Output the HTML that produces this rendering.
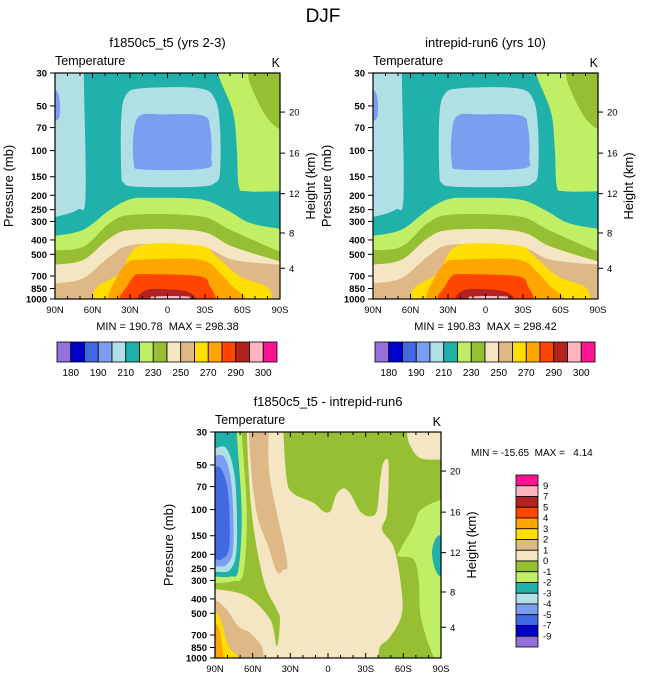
<!DOCTYPE html>
<html><head><meta charset="utf-8">
<style>
html,body{margin:0;padding:0;background:#fff;}
svg{display:block;font-family:"Liberation Sans",Arial,sans-serif;}
</style></head>
<body>
<svg id="fig" width="647" height="683" viewBox="0 0 647 683" xmlns="http://www.w3.org/2000/svg">
<text x="323" y="22" font-size="19" text-anchor="middle">DJF</text>
</svg>
<script>
// ---------- axis data ----------
const xTickLabels = ["90N","60N","30N","0","30S","60S","90S"];
const xTickLats = [-90,-60,-30,0,30,60,90];
const pTicks = [30,50,70,100,150,200,250,300,400,500,700,850,1000];
const hTickLabels = ["4","8","12","16","20"];
const hTickP = [621,359,195,104,55];

// ---------- top panel contour data (lat: -90=90N .. 90=90S, pressure mb) ----------
const topBackground = "#20b2aa";
const cPowderLeft = [[-100,20],[-67,20],[-67,30],[-65.6,203],[-72,250],[-90,280],[-100,285]];
const cBlueLeft = [[-100,38],[-90,39],[-86.8,43],[-86,52],[-88,62],[-100,63]];
const cPowderCenter = [[-37,60],[-33,42],[-20,38],[25,38],[38,45],[42,70],[42,140],[38,165],[25,175],[-25,175],[-35,165],[-37,140]];
const cBlueCenter = [[-27,75],[-22,58],[-5,57],[28,58],[34,70],[35,110],[30,132],[-20,134],[-27,120]];
const cGreenRight = [[40.4,20],[40.4,30],[52.4,55],[55.5,99],[57,173],[63,188],[90,188],[100,188],[100,20]];
const cOliveRight = [[64.3,20],[64.3,30],[68,39],[79,59],[90,72],[100,74],[100,20]];
const b230 = [[-100,375],[-90,375],[-67,340],[-46,250],[-30,213],[-14,208],[26,213],[47,250],[66,307],[90,336],[100,340],[100,1500],[-100,1500]];
const b240 = [[-100,470],[-90,470],[-67,443],[-46,307],[-27,270],[26,277],[50,341],[90,478],[100,480],[100,1500],[-100,1500]];
const b250 = [[-100,586],[-90,586],[-67,543],[-46,388],[-27,341],[26,349],[52,443],[90,557],[100,560],[100,1500],[-100,1500]];
const b260 = [[-100,785],[-90,785],[-67,722],[-46,516],[-27,431],[26,443],[52,543],[90,586],[100,590],[100,1500],[-100,1500]];
const b270 = [[-61,1300],[-60.3,1000],[-56,824],[-38,667],[-22,437],[26,437],[39,516],[58,704],[79,824],[84,1000],[85,1300]];
const b280 = [[-49,1300],[-48,1000],[-43,778],[-32.5,573],[-19,543],[26,543],[42,667],[52,824],[63,1000],[64,1300]];
const b290 = [[-40,1300],[-39,1000],[-32.5,824],[-27,704],[-19,680],[26,704],[34,824],[39,1000],[40,1300]];
const b295 = [[-25,1300],[-24.5,1000],[-16.6,868],[-0.7,860],[15,890],[23,1000],[24,1300]];
const b300 = [[-15,1300],[-14,1000],[-8.6,960],[15,960],[18,1000],[19,1300]];

// ---------- diff panel contour data ----------
const diffBackground = "#f5e6c3";
const dOliveLeft = [[-100,20],[-64.7,20],[-64.7,30],[-60.8,105],[-51.4,297],[-40.8,471],[-38.2,551],[-40.8,833],[-46,551],[-64.7,383],[-90,343],[-100,343]];
const dOliveRight = [[-35.5,20],[-35.5,30],[-32.8,63],[-27.5,78],[-11.6,90],[-3.6,103],[1.7,103],[4.4,90],[7,78],[12.4,72],[17.7,78],[25.7,103],[33.6,111],[39,101],[41.6,63],[44.3,48],[48.3,49],[47,105],[43,136],[52.2,178],[57.6,297],[58.9,500],[49.6,720],[41.6,833],[40.3,1000],[40.3,1400],[100,1400],[100,20]];
const dWheatTR = [[62.9,20],[62.9,30],[65.5,37],[73.5,45],[90,46],[100,46],[100,20]];
const dGreenRight = [[100,86],[90,86],[73.5,101],[68.2,129],[57.6,186],[56.2,206],[68.2,216],[72.2,297],[73.5,500],[78.8,753],[84.2,1000],[86,1400],[100,1400]];
const dTealRight = [[100,148],[90,148],[85.5,158],[82.8,196],[85.5,254],[90,283],[100,285]];
const dTanStrip = [[-62,20],[-47.5,20],[-47.5,30],[-46,63],[-32.8,216],[-35.5,254],[-40.8,262],[-47.5,178],[-56.8,105],[-62,43]];
const dGreenLeft = [[-100,20],[-68.7,20],[-68.7,30],[-64.7,105],[-67.4,268],[-75.4,304],[-90,313],[-100,313]];
const dTealLeft = [[-100,20],[-72.7,20],[-72.7,30],[-68.7,105],[-71.4,254],[-78,283],[-90,283],[-100,283]];
const dPowderLeft = [[-100,38],[-90,38.4],[-80.7,39],[-74,63],[-72.7,178],[-78,254],[-90,262],[-100,262]];
const dCornLeft = [[-100,43],[-90,43],[-82,45],[-76.7,70],[-75.4,178],[-80.7,235],[-90,241],[-100,241]];
const dRoyalLeft = [[-100,51],[-90,51],[-84.7,54],[-79.4,78],[-78.6,178],[-84.7,216],[-90,216],[-100,216]];
const dTanBL = [[-100,405],[-90,405],[-80.7,471],[-71.4,612],[-62,680],[-52.8,833],[-51.4,1000],[-51,1400],[-100,1400]];
const dGoldBL = [[-100,485],[-90,485],[-84.7,580],[-79.4,833],[-71.4,1000],[-71,1400],[-100,1400]];
const dOrangeBL = [[-100,580],[-90,580],[-86,680],[-83.4,975],[-83,1400],[-100,1400]];

// ---------- colour bars ----------
const tempColors = ["#9370db","#0000cd","#4169e1","#7b9ef0","#b0e0e6","#20b2aa","#c0ef65","#97bf33","#f5e6c3","#deb887","#ffdf00","#ffa500","#ff4500","#b22222","#ffb6c1","#ff1493"];
const tempLabels = ["180","190","210","230","250","270","290","300"];
const diffLabels = ["9","7","5","4","3","2","1","0","-1","-2","-3","-4","-5","-7","-9"];

const C = {blue:"#7b9ef0",powder:"#b0e0e6",teal:"#20b2aa",green:"#c0ef65",olive:"#97bf33",wheat:"#f5e6c3",tan:"#deb887",gold:"#ffdf00",orange:"#ffa500",ored:"#ff4500",brick:"#b22222",pink:"#ffb6c1",royal:"#4169e1"};

const NS="http://www.w3.org/2000/svg";
const svg=document.getElementById('fig');
function el(tag,attrs,parent){const e=document.createElementNS(NS,tag);for(const k in attrs)e.setAttribute(k,attrs[k]);(parent||svg).appendChild(e);return e;}
function txt(x,y,s,size,anchor,parent,extra){const t=el('text',Object.assign({x:x,y:y,'font-size':size,'text-anchor':anchor||'start'},extra||{}),parent);t.textContent=s;return t;}

function smoothPath(pts){
  const n=pts.length;let d='M'+pts[0][0].toFixed(1)+','+pts[0][1].toFixed(1);
  for(let i=0;i<n;i++){
    const p0=pts[(i-1+n)%n],p1=pts[i],p2=pts[(i+1)%n],p3=pts[(i+2)%n];
    const c1=[p1[0]+(p2[0]-p0[0])/6,p1[1]+(p2[1]-p0[1])/6];
    const c2=[p2[0]-(p3[0]-p1[0])/6,p2[1]-(p3[1]-p1[1])/6];
    d+='C'+c1[0].toFixed(1)+','+c1[1].toFixed(1)+' '+c2[0].toFixed(1)+','+c2[1].toFixed(1)+' '+p2[0].toFixed(1)+','+p2[1].toFixed(1);
  }
  return d+'Z';
}

let clipId=0;
function panel(o){
  const L=o.left,T=o.top,W=o.w,H=o.h;
  const xs=lat=>L+(lat+90)/180*W;
  const ys=p=>T+Math.log(p/30)/Math.log(1000/30)*H;
  const g=el('g',{});
  
  
  const cid='clip'+(clipId++);
  const cp=el('clipPath',{id:cid},g);el('rect',{x:L,y:T,width:W,height:H},cp);
  const pg=el('g',{'clip-path':'url(#'+cid+')'},g);
  const bg=el('rect',{x:L,y:T,width:W,height:H,fill:o.bg},pg);
  
  
  o.shapes.forEach(s=>{
    const pts=s[1].map(q=>[xs(q[0]),ys(q[1])]);
    const pa=el('path',{d:smoothPath(pts),fill:s[0]},pg);
    
    
  });
  el('rect',{x:L,y:T,width:W,height:H,fill:'none',stroke:'#000','stroke-width':1.2},g);
  for(let lat=-90;lat<=90;lat+=10){
    const x=xs(lat),major=xTickLats.indexOf(lat)>=0,len=major?5:3;
    el('line',{x1:x,y1:T+H,x2:x,y2:T+H-len,stroke:'#000','stroke-width':1},g);
    el('line',{x1:x,y1:T,x2:x,y2:T+len,stroke:'#000','stroke-width':1},g);
  }
  xTickLabels.forEach((s,i)=>{const t=txt(xs(xTickLats[i]),T+H+14,s,9.5,'middle',g);
    });
  pTicks.forEach(p=>{const y=ys(p);
    el('line',{x1:L-5,y1:y,x2:L,y2:y,stroke:'#000','stroke-width':1},g);
    const t=txt(L-8,y+3.5,String(p),9.5,'end',g,{'font-weight':'bold'});
    });
  hTickP.forEach((p,i)=>{const y=ys(p);
    el('line',{x1:L+W,y1:y,x2:L+W+5,y2:y,stroke:'#000','stroke-width':1},g);
    const t=txt(L+W+9,y+3.5,hTickLabels[i],9.5,'start',g);
    });
  const yt=txt(0,0,'Pressure (mb)',13,'middle',g,{transform:'translate('+(L-42)+','+(T+H/2)+') rotate(-90)'});
  
  const ht=txt(0,0,'Height (km)',13,'middle',g,{transform:'translate('+(L+W+35)+','+(T+H/2)+') rotate(-90)'});
  
  const tt=txt(L,T-8,'Temperature',12.5,'start',g);
  
  const kt=txt(L+W,T-6,'K',12.5,'end',g);
  
  const st=txt(L+W/2,T-26,o.title,13,'middle',g);
  
  if(o.minmax){const m=txt(L+W/2,T+H+31,o.minmax,11,'middle',g,{style:'white-space:pre'});
    }
}

const topShapes=[[C.powder,cPowderLeft],[C.blue,cBlueLeft],[C.powder,cPowderCenter],[C.blue,cBlueCenter],[C.green,cGreenRight],[C.olive,cOliveRight],
 [C.green,b230],[C.olive,b240],[C.wheat,b250],[C.tan,b260],[C.gold,b270],[C.orange,b280],[C.ored,b290],[C.brick,b295],[C.pink,b300]];
const diffShapes=[[C.olive,dOliveRight],[C.wheat,dWheatTR],[C.green,dGreenRight],[C.teal,dTealRight],[C.olive,dOliveLeft],[C.tan,dTanStrip],
 [C.green,dGreenLeft],[C.teal,dTealLeft],[C.powder,dPowderLeft],[C.blue,dCornLeft],[C.royal,dRoyalLeft],[C.tan,dTanBL],[C.gold,dGoldBL],[C.orange,dOrangeBL]];

panel({name:'control-panel',left:55,top:73,w:225,h:226,bg:topBackground,shapes:topShapes,title:'f1850c5_t5 (yrs 2-3)',minmax:'MIN = 190.78  MAX = 298.38'});
panel({name:'test-panel',left:373,top:73,w:225,h:226,bg:topBackground,shapes:topShapes,title:'intrepid-run6 (yrs 10)',minmax:'MIN = 190.83  MAX = 298.42'});
panel({name:'difference-panel',left:215,top:432,w:226,h:226,bg:diffBackground,shapes:diffShapes,title:'f1850c5_t5 - intrepid-run6'});

function hbar(x0,name){
  const g=el('g',{});
  const w=220/16;
  tempColors.forEach((c,i)=>{const r=el('rect',{x:x0+i*w,y:342,width:w,height:20,fill:c,stroke:'#000','stroke-width':0.8},g);
    });
  tempLabels.forEach((s,i)=>{const t=txt(x0+w*(2*i+1),376,s,10,'middle',g);
    });
}
hbar(57,'control-colorbar');hbar(375,'test-colorbar');

const mm=txt(471,456,'MIN = -15.65  MAX =   4.14',10,'start',svg,{style:'white-space:pre'});

(function(){
  const g=el('g',{});
  const h=172/16;const rev=tempColors.slice().reverse();
  rev.forEach((c,i)=>{const r=el('rect',{x:516,y:475+i*h,width:22,height:h,fill:c,stroke:'#000','stroke-width':0.8},g);
    });
  diffLabels.forEach((s,i)=>{const t=txt(543,475+h*(i+1)+3,s,9.5,'start',g);
    });
})();
</script>
</body></html>
